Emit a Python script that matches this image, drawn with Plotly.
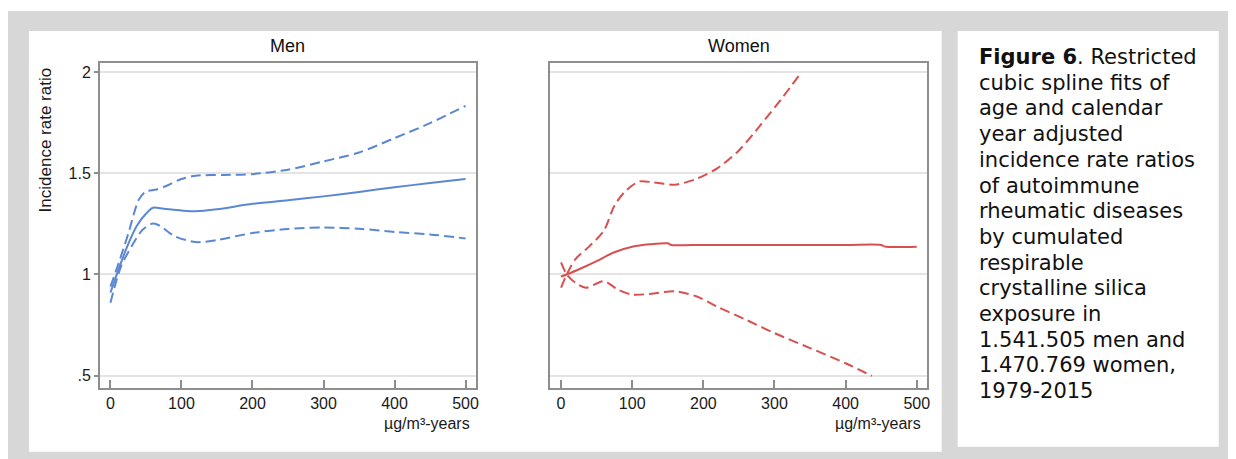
import plotly.graph_objects as go

# Page body has an 8px margin, so the figure is laid out in a 1228x451 box that
# starts at (8, 8) in the browser window.
OFF = 8
W, H = 1236 - OFF, 459 - OFF

# ---------------- data ----------------
men_x = [0, 13, 25, 37, 50, 60, 75, 100, 120, 150, 200, 250, 300, 350, 400, 450, 500]
men_irr = [0.91, 1.04, 1.15, 1.24, 1.30, 1.33, 1.325, 1.316, 1.312, 1.322, 1.349, 1.367, 1.386, 1.408, 1.431, 1.452, 1.472]
men_upper_x = [0, 12, 25, 40, 50, 65, 80, 100, 120, 160, 200, 250, 300, 350, 400, 450, 500]
men_upper = [0.94, 1.06, 1.20, 1.37, 1.41, 1.42, 1.44, 1.472, 1.488, 1.492, 1.496, 1.518, 1.559, 1.603, 1.674, 1.748, 1.834]
men_lower_x = [0, 15, 30, 45, 60, 70, 90, 120, 150, 200, 250, 300, 350, 400, 450, 500]
men_lower = [0.86, 1.04, 1.14, 1.22, 1.252, 1.24, 1.19, 1.16, 1.17, 1.205, 1.225, 1.232, 1.226, 1.21, 1.198, 1.178]

women_x = [0, 8, 30, 50, 75, 100, 125, 150, 155, 200, 300, 400, 450, 455, 500]
women_irr = [0.99, 1.0, 1.033, 1.066, 1.11, 1.137, 1.149, 1.154, 1.146, 1.146, 1.146, 1.146, 1.146, 1.138, 1.137]
women_upper_x = [0, 8, 20, 40, 60, 75, 90, 110, 130, 160, 190, 220, 250, 280, 310, 338]
women_upper = [0.935, 1.0, 1.075, 1.14, 1.215, 1.34, 1.41, 1.46, 1.455, 1.444, 1.472, 1.526, 1.613, 1.737, 1.869, 2.0]
women_lower_x = [0, 8, 20, 35, 60, 80, 100, 130, 160, 190, 220, 260, 300, 350, 400, 437]
women_lower = [1.06, 1.0, 0.96, 0.934, 0.967, 0.925, 0.90, 0.906, 0.917, 0.892, 0.84, 0.776, 0.71, 0.636, 0.561, 0.498]

x_ticks = [0, 100, 200, 300, 400, 500]
y_ticks = [0.5, 1, 1.5, 2]
y_ticktext = [".5", "1", "1.5", "2"]
panel_titles = ["Men", "Women"]
y_title = "Incidence rate ratio"
x_title = "µg/m³-years"
caption_lines = [
    "<b>Figure 6</b>. Restricted",
    "cubic spline fits of",
    "age and calendar",
    "year adjusted",
    "incidence rate ratios",
    "of autoimmune",
    "rheumatic diseases",
    "by cumulated",
    "respirable",
    "crystalline silica",
    "exposure in",
    "1.541.505 men and",
    "1.470.769 women,",
    "1979-2015",
]

BLUE = "#5b87d2"
RED = "#d94f50"

fig = go.Figure()

def add(x, y, color, dash, xa, ya):
    fig.add_trace(go.Scatter(
        x=x, y=y, mode="lines", xaxis=xa, yaxis=ya,
        line=dict(color=color, width=2, dash=dash, shape="spline", smoothing=0.8),
        showlegend=False, hoverinfo="skip"))

DASH = "10px,5px"
add(men_upper_x, men_upper, BLUE, DASH, "x", "y")
add(men_lower_x, men_lower, BLUE, DASH, "x", "y")
add(men_x, men_irr, BLUE, "solid", "x", "y")
add(women_upper_x, women_upper, RED, DASH, "x2", "y2")
add(women_lower_x, women_lower, RED, DASH, "x2", "y2")
add(women_x, women_irr, RED, "solid", "x2", "y2")

def px_x(p):
    return (p - OFF) / W

def px_y(p):
    return 1 - (p - OFF) / H

men_dom = [px_x(100), px_x(477)]
women_dom = [px_x(551.7), px_x(929.3)]
y_dom = [px_y(387.7), px_y(62.7)]

FRAME = "#8e8e8e"
TICKFONT = dict(family="Liberation Sans, Arial, sans-serif", size=16, color="#1a1a1a")

xcommon = dict(range=[-15, 514.5], tickvals=x_ticks, ticks="inside", ticklen=8,
               tickwidth=1.5, tickcolor=FRAME, showline=True, linecolor=FRAME,
               linewidth=1.5, mirror=True, showgrid=False, zeroline=False,
               tickfont=TICKFONT, fixedrange=True)
ycommon = dict(range=[0.44, 2.047], tickvals=y_ticks, ticktext=y_ticktext,
               showline=True, linecolor=FRAME, linewidth=1.5, mirror=True,
               showgrid=True, gridcolor="#e4e4e4", gridwidth=1.5, zeroline=False,
               tickfont=TICKFONT, domain=y_dom, fixedrange=True)

shapes = [
    dict(type="rect", xref="paper", yref="paper", x0=px_x(7), x1=1.01, y0=-0.01, y1=px_y(11),
         fillcolor="#d7d7d7", line_width=0, layer="below"),
    dict(type="rect", xref="paper", yref="paper", x0=px_x(29), x1=px_x(944), y0=px_y(451.7), y1=px_y(31),
         fillcolor="white", line_width=0, layer="below"),
    dict(type="rect", xref="paper", yref="paper", x0=px_x(960), x1=px_x(1221.7), y0=px_y(446.7), y1=px_y(31),
         fillcolor="white", line_width=0, layer="below"),
]

annotations = []
TITLEFONT = dict(family="Liberation Sans, Arial, sans-serif", size=18, color="#111")
for t, dom in zip(panel_titles, [men_dom, women_dom]):
    annotations.append(dict(text=t, x=(dom[0] + dom[1]) / 2, y=px_y(46), xref="paper", yref="paper",
                            showarrow=False, xanchor="center", yanchor="middle", font=TITLEFONT))
for xr in [473, 925]:
    annotations.append(dict(text=x_title, x=px_x(xr), y=px_y(423), xref="paper", yref="paper",
                            showarrow=False, xanchor="right", yanchor="middle",
                            font=dict(family="Liberation Sans, Arial, sans-serif", size=16, color="#1a1a1a")))
annotations.append(dict(text=y_title, x=px_x(45.5), y=px_y(140), xref="paper", yref="paper",
                        showarrow=False, xanchor="center", yanchor="middle", textangle=-90,
                        font=dict(family="Liberation Sans, Arial, sans-serif", size=17, color="#1a1a1a")))
CAPFONT = dict(family="DejaVu Sans, Verdana, sans-serif", size=21, color="#111")
for i, line in enumerate(caption_lines):
    annotations.append(dict(text=line, x=px_x(979), y=px_y(57 + 25.7 * i), xref="paper", yref="paper",
                            showarrow=False, xanchor="left", yanchor="middle", font=CAPFONT))

fig.update_layout(
    width=W, height=H, margin=dict(l=0, r=0, t=0, b=0),
    paper_bgcolor="white", plot_bgcolor="rgba(0,0,0,0)",
    xaxis=dict(domain=men_dom, anchor="y", **xcommon),
    xaxis2=dict(domain=women_dom, anchor="y2", **xcommon),
    yaxis=dict(anchor="x", ticks="outside", ticklen=4, tickwidth=1.5, tickcolor=FRAME,
               showticklabels=True, **ycommon),
    yaxis2=dict(anchor="x2", ticks="", showticklabels=False, **ycommon),
    shapes=shapes, annotations=annotations,
)

fig.write_html("out.html")
